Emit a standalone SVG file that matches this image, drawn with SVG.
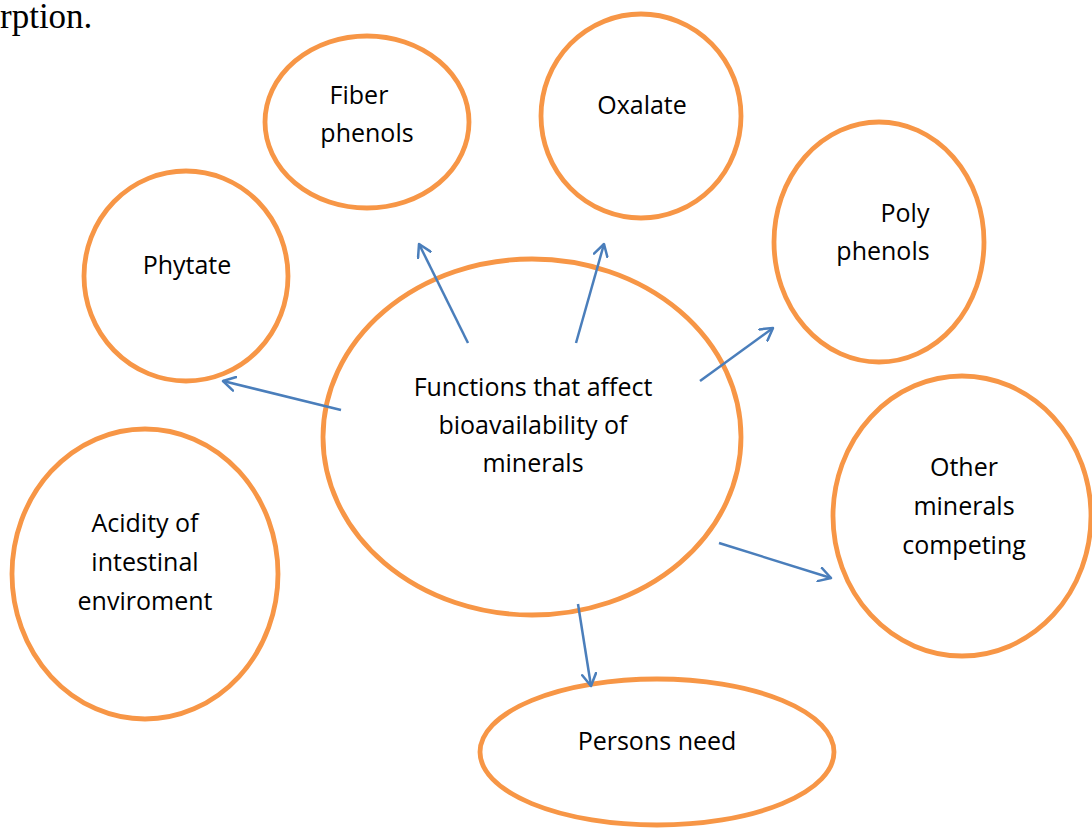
<svg xmlns="http://www.w3.org/2000/svg" width="1092" height="828" viewBox="0 0 1092 828">
<defs>
<marker id="ah" markerWidth="16" markerHeight="16" refX="13" refY="8" orient="auto" markerUnits="userSpaceOnUse">
<path d="M1,1 L13,8 L1,15" fill="none" stroke="#4A7EBB" stroke-width="2.5" stroke-linecap="round" stroke-linejoin="round"/>
</marker>
</defs>
<style>
.n ellipse{fill:#fff;stroke:#F79646;stroke-width:4.8}
.n text{font-family:"Open Sans","Noto Sans","Liberation Sans",sans-serif;font-size:25px;fill:#000;text-anchor:middle}
#edges line{stroke:#4A7EBB;stroke-width:2.5;marker-end:url(#ah)}
</style>
<rect width="1092" height="828" fill="#fff"/>
<text x="0" y="28" font-family="Liberation Serif, serif" font-size="35" fill="#000">rption.</text>
<g id="fiber" class="n"><ellipse cx="367" cy="122" rx="102" ry="86"/><text x="359" y="104">Fiber</text><text x="367" y="142">phenols</text></g>
<g id="oxalate" class="n"><ellipse cx="641" cy="116" rx="100" ry="102"/><text x="642" y="114">Oxalate</text></g>
<g id="poly" class="n"><ellipse cx="879" cy="242" rx="105" ry="120"/><text x="905" y="222">Poly</text><text x="883" y="260">phenols</text></g>
<g id="phytate" class="n"><ellipse cx="186" cy="276" rx="102" ry="105"/><text x="187" y="274">Phytate</text></g>
<g id="center" class="n"><ellipse cx="532" cy="437" rx="209" ry="178"/><text x="533" y="396">Functions that affect</text><text x="533" y="434">bioavailability of</text><text x="533" y="472">minerals</text></g>
<g id="acidity" class="n"><ellipse cx="145" cy="574" rx="133" ry="145"/><text x="145" y="532">Acidity of</text><text x="145" y="571">intestinal</text><text x="145" y="610">enviroment</text></g>
<g id="other" class="n"><ellipse cx="962" cy="516" rx="129" ry="140"/><text x="964" y="476">Other</text><text x="964" y="515">minerals</text><text x="964" y="554">competing</text></g>
<g id="persons" class="n"><ellipse cx="657" cy="752" rx="177" ry="73"/><text x="657" y="750">Persons need</text></g>
<g id="edges">
<line x1="468" y1="343" x2="419" y2="244"/>
<line x1="576" y1="343" x2="604" y2="244"/>
<line x1="341" y1="410" x2="223" y2="381"/>
<line x1="700" y1="381" x2="773" y2="328"/>
<line x1="719" y1="543" x2="831" y2="578"/>
<line x1="578" y1="604" x2="591" y2="686"/>
</g>
</svg>
